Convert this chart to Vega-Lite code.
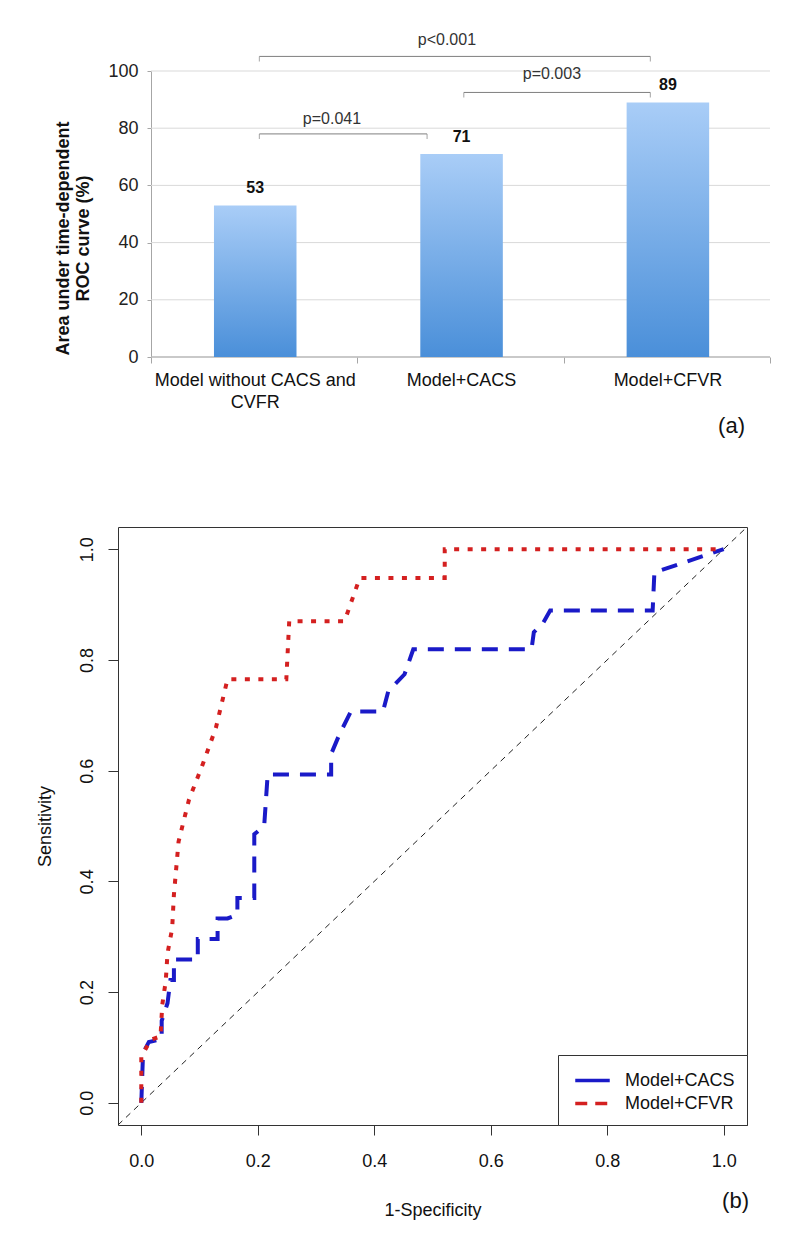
{
  "$schema": "https://vega.github.io/schema/vega-lite/v6.json",
  "padding": {"left": 35, "top": 31, "right": 5, "bottom": 5},
  "datasets": {
    "bars": [
      {"model": "Model without CACS and CVFR", "auc": 53},
      {"model": "Model+CACS", "auc": 71},
      {"model": "Model+CFVR", "auc": 89}
    ],
    "grid": [{"v": 0}, {"v": 20}, {"v": 40}, {"v": 60}, {"v": 80}, {"v": 100}],
    "brackets": [
      {"label": "p=0.041", "from": 0.525, "to": 1.338, "y": 78, "xm": 0.877, "ly": 83.2},
      {"label": "p<0.001", "from": 0.525, "to": 2.42, "y": 105.1, "xm": 1.434, "ly": 111},
      {"label": "p=0.003", "from": 1.516, "to": 2.42, "y": 92.5, "xm": 1.943, "ly": 98.8}
    ],
    "diag": [{"x0": -0.04, "y0": -0.04, "x1": 1.04, "y1": 1.04}],
    "roc": [
      {"model": "Model+CACS", "fpr": 0, "tpr": 0},
      {"model": "Model+CACS", "fpr": 0.003, "tpr": 0.09},
      {"model": "Model+CACS", "fpr": 0.013, "tpr": 0.11},
      {"model": "Model+CACS", "fpr": 0.035, "tpr": 0.115},
      {"model": "Model+CACS", "fpr": 0.035, "tpr": 0.148},
      {"model": "Model+CACS", "fpr": 0.045, "tpr": 0.18},
      {"model": "Model+CACS", "fpr": 0.05, "tpr": 0.222},
      {"model": "Model+CACS", "fpr": 0.056, "tpr": 0.222},
      {"model": "Model+CACS", "fpr": 0.056, "tpr": 0.259},
      {"model": "Model+CACS", "fpr": 0.097, "tpr": 0.259},
      {"model": "Model+CACS", "fpr": 0.097, "tpr": 0.296},
      {"model": "Model+CACS", "fpr": 0.131, "tpr": 0.296},
      {"model": "Model+CACS", "fpr": 0.131, "tpr": 0.333},
      {"model": "Model+CACS", "fpr": 0.148, "tpr": 0.333},
      {"model": "Model+CACS", "fpr": 0.165, "tpr": 0.34},
      {"model": "Model+CACS", "fpr": 0.165, "tpr": 0.37},
      {"model": "Model+CACS", "fpr": 0.194, "tpr": 0.37},
      {"model": "Model+CACS", "fpr": 0.194, "tpr": 0.485},
      {"model": "Model+CACS", "fpr": 0.211, "tpr": 0.5},
      {"model": "Model+CACS", "fpr": 0.217, "tpr": 0.593},
      {"model": "Model+CACS", "fpr": 0.326, "tpr": 0.593},
      {"model": "Model+CACS", "fpr": 0.326, "tpr": 0.63},
      {"model": "Model+CACS", "fpr": 0.34, "tpr": 0.665},
      {"model": "Model+CACS", "fpr": 0.36, "tpr": 0.707},
      {"model": "Model+CACS", "fpr": 0.415, "tpr": 0.707},
      {"model": "Model+CACS", "fpr": 0.424, "tpr": 0.743},
      {"model": "Model+CACS", "fpr": 0.452, "tpr": 0.774},
      {"model": "Model+CACS", "fpr": 0.467, "tpr": 0.819},
      {"model": "Model+CACS", "fpr": 0.67, "tpr": 0.819},
      {"model": "Model+CACS", "fpr": 0.674, "tpr": 0.85},
      {"model": "Model+CACS", "fpr": 0.69, "tpr": 0.867},
      {"model": "Model+CACS", "fpr": 0.702, "tpr": 0.889},
      {"model": "Model+CACS", "fpr": 0.878, "tpr": 0.889},
      {"model": "Model+CACS", "fpr": 0.881, "tpr": 0.958},
      {"model": "Model+CACS", "fpr": 1.0, "tpr": 1.0},
      {"model": "Model+CFVR", "fpr": 0, "tpr": 0},
      {"model": "Model+CFVR", "fpr": 0, "tpr": 0.083},
      {"model": "Model+CFVR", "fpr": 0.016, "tpr": 0.114},
      {"model": "Model+CFVR", "fpr": 0.033, "tpr": 0.12},
      {"model": "Model+CFVR", "fpr": 0.036, "tpr": 0.177},
      {"model": "Model+CFVR", "fpr": 0.042, "tpr": 0.22},
      {"model": "Model+CFVR", "fpr": 0.045, "tpr": 0.27},
      {"model": "Model+CFVR", "fpr": 0.053, "tpr": 0.315},
      {"model": "Model+CFVR", "fpr": 0.056, "tpr": 0.376},
      {"model": "Model+CFVR", "fpr": 0.064, "tpr": 0.472},
      {"model": "Model+CFVR", "fpr": 0.082, "tpr": 0.548},
      {"model": "Model+CFVR", "fpr": 0.105, "tpr": 0.61},
      {"model": "Model+CFVR", "fpr": 0.128, "tpr": 0.677},
      {"model": "Model+CFVR", "fpr": 0.148, "tpr": 0.765},
      {"model": "Model+CFVR", "fpr": 0.249, "tpr": 0.765},
      {"model": "Model+CFVR", "fpr": 0.254, "tpr": 0.87},
      {"model": "Model+CFVR", "fpr": 0.349, "tpr": 0.87},
      {"model": "Model+CFVR", "fpr": 0.375, "tpr": 0.948},
      {"model": "Model+CFVR", "fpr": 0.521, "tpr": 0.948},
      {"model": "Model+CFVR", "fpr": 0.521, "tpr": 1.0},
      {"model": "Model+CFVR", "fpr": 1.0, "tpr": 1.0}
    ]
  },
  "spacing": 89,
  "resolve": {"legend": {"color": "independent"}},
  "vconcat": [
    {
      "width": 652,
      "height": 286,
      "title": {"text": "(a)", "orient": "bottom", "anchor": "end", "frame": "group", "fontSize": 22, "fontWeight": "normal", "offset": 5, "dx": -25, "color": "#111"},
      "layer": [
        {
          "layer": [
            {
              "data": {"name": "grid"},
              "mark": {"type": "rule", "color": "#d9d9d9", "strokeWidth": 1},
              "encoding": {
                "x": {"datum": 0, "type": "quantitative", "scale": {"domain": [-0.16, 3], "nice": false, "zero": false},
                  "axis": {"orient": "bottom", "values": [0, 1, 2, 3], "labels": false, "title": null, "grid": false, "domain": false, "tickColor": "#a6a6a6", "tickSize": 6}},
                "x2": {"datum": 3},
                "y": {"field": "v", "type": "quantitative", "scale": {"domain": [0, 100], "nice": false},
                  "axis": {"values": [0, 20, 40, 60, 80, 100], "offset": -33, "grid": false, "domainColor": "#a6a6a6", "tickColor": "#a6a6a6", "tickSize": 4, "labelFontSize": 18, "labelPadding": 9, "labelColor": "#222", "labelFlush": false, "title": ["Area under time-dependent", "ROC curve (%)"], "titleFontSize": 18, "titleFontWeight": "bold", "titleLineHeight": 20, "titlePadding": 15, "titleColor": "#111", "titleY": 167}}
              }
            },
            {
              "data": {"name": "grid"},
              "transform": [{"filter": "datum.v == 0"}],
              "mark": {"type": "rule", "color": "#a6a6a6", "strokeWidth": 1},
              "encoding": {
                "x": {"datum": 0, "type": "quantitative"},
                "x2": {"datum": 3},
                "y": {"field": "v", "type": "quantitative"}
              }
            },
            {
              "data": {"name": "brackets"},
              "mark": {"type": "rule", "color": "#7f7f7f", "strokeWidth": 1},
              "encoding": {
                "x": {"field": "from", "type": "quantitative"},
                "x2": {"field": "to"},
                "y": {"field": "y", "type": "quantitative"}
              }
            },
            {
              "data": {"name": "brackets"},
              "transform": [{"fold": ["from", "to"], "as": ["end", "xpos"]}],
              "mark": {"type": "tick", "orient": "vertical", "size": 5, "thickness": 1, "color": "#7f7f7f", "yOffset": 2.5},
              "encoding": {
                "x": {"field": "xpos", "type": "quantitative"},
                "y": {"field": "y", "type": "quantitative"}
              }
            },
            {
              "data": {"name": "brackets"},
              "mark": {"type": "text", "fontSize": 16, "color": "#333", "baseline": "middle"},
              "encoding": {
                "x": {"field": "xm", "type": "quantitative"},
                "y": {"field": "ly", "type": "quantitative"},
                "text": {"field": "label"}
              }
            }
          ]
        },
        {
          "data": {"name": "bars"},
          "layer": [
            {
              "mark": {"type": "bar", "color": {"gradient": "linear", "x1": 0, "y1": 0, "x2": 0, "y2": 1, "stops": [{"offset": 0, "color": "#a9cdf7"}, {"offset": 1, "color": "#4a8fd9"}]}},
              "encoding": {
                "x": {"field": "model", "type": "nominal", "sort": null, "scale": {"paddingInner": 0.6, "paddingOuter": 0.38, "align": 0.612},
                  "axis": {"orient": "bottom", "title": null, "domain": false, "ticks": false, "labelAngle": 0, "labelFontSize": 18, "labelPadding": 14, "labelColor": "#111", "labelLineHeight": 22, "labelLimit": 0, "labelExpr": "datum.value == 'Model without CACS and CVFR' ? ['Model without CACS and', 'CVFR'] : datum.value"}},
                "y": {"field": "auc", "type": "quantitative"}
              }
            },
            {
              "mark": {"type": "text", "fontWeight": "bold", "fontSize": 16, "baseline": "alphabetic", "dy": -12, "color": "#111"},
              "encoding": {
                "x": {"field": "model", "type": "nominal", "sort": null},
                "y": {"field": "auc", "type": "quantitative"},
                "text": {"field": "auc", "type": "quantitative"}
              }
            }
          ]
        }
      ],
      "resolve": {"scale": {"x": "independent"}}
    },
    {
      "width": 629,
      "height": 598,
      "view": {"stroke": "#333", "strokeWidth": 1},
      "title": {"text": "(b)", "orient": "bottom", "anchor": "end", "frame": "group", "fontSize": 22, "fontWeight": "normal", "offset": -28, "dx": 2, "color": "#111"},
      "layer": [
        {
          "data": {"name": "diag"},
          "mark": {"type": "rule", "strokeDash": [6, 5], "color": "#222", "strokeWidth": 1},
          "encoding": {
            "x": {"field": "x0", "type": "quantitative", "scale": {"domain": [-0.04, 1.04], "nice": false, "zero": false},
              "axis": {"values": [0, 0.2, 0.4, 0.6, 0.8, 1], "format": ".1f", "domain": false, "grid": false, "tickSize": 10, "tickColor": "#333", "labelFontSize": 18, "labelPadding": 17, "labelColor": "#111", "labelFlush": false, "title": "1-Specificity", "titleFontSize": 18, "titleFontWeight": "normal", "titlePadding": 31, "titleColor": "#111"}},
            "y": {"field": "y0", "type": "quantitative", "scale": {"domain": [-0.04, 1.04], "nice": false, "zero": false},
              "axis": {"values": [0, 0.2, 0.4, 0.6, 0.8, 1], "format": ".1f", "domain": false, "grid": false, "tickSize": 10, "tickColor": "#333", "labelFontSize": 18, "labelAngle": 270, "labelAlign": "center", "labelBaseline": "bottom", "labelPadding": 12, "labelColor": "#111", "labelFlush": false, "title": "Sensitivity", "titleFontSize": 18, "titleFontWeight": "normal", "titlePadding": 24, "titleColor": "#111"}},
            "x2": {"field": "x1"},
            "y2": {"field": "y1"}
          }
        },
        {
          "data": {"name": "roc"},
          "transform": [{"filter": "datum.model == 'Model+CACS'"}],
          "mark": {"type": "line", "strokeWidth": 4, "strokeCap": "butt", "strokeDash": [16, 11]},
          "encoding": {
            "x": {"field": "fpr", "type": "quantitative"},
            "y": {"field": "tpr", "type": "quantitative"},
            "order": [{"field": "fpr", "type": "quantitative"}, {"field": "tpr", "type": "quantitative"}],
            "color": {"field": "model", "type": "nominal", "scale": {"domain": ["Model+CACS", "Model+CFVR"], "range": ["#1a1ac8", "#d42020"]},
              "legend": {"orient": "bottom-right", "offset": 0, "title": null, "strokeColor": "#333", "fillColor": "white", "padding": 12, "symbolType": "M-1.5,0L1.5,0", "symbolStrokeWidth": 3.5, "symbolSize": 529, "symbolOffset": 9, "labelFontSize": 18, "labelOffset": 19, "rowPadding": 0, "labelColor": "#111", "labelLimit": 0,
                "encode": {"symbols": {"update": {"strokeDash": {"signal": "datum.label == 'Model+CFVR' ? [12, 8] : [1, 0]"}}}}}}
          }
        },
        {
          "data": {"name": "roc"},
          "transform": [{"filter": "datum.model == 'Model+CFVR'"}],
          "mark": {"type": "line", "strokeWidth": 4, "strokeCap": "butt", "strokeDash": [5, 8.5]},
          "encoding": {
            "x": {"field": "fpr", "type": "quantitative"},
            "y": {"field": "tpr", "type": "quantitative"},
            "order": [{"field": "fpr", "type": "quantitative"}, {"field": "tpr", "type": "quantitative"}],
            "color": {"field": "model", "type": "nominal", "scale": {"domain": ["Model+CACS", "Model+CFVR"], "range": ["#1a1ac8", "#d42020"]}}
          }
        }
      ]
    }
  ],
  "config": {
    "font": "Liberation Sans, Arial, Helvetica, sans-serif",
    "view": {"stroke": null},
    "title": {"font": "Liberation Sans, Arial, Helvetica, sans-serif"}
  }
}
